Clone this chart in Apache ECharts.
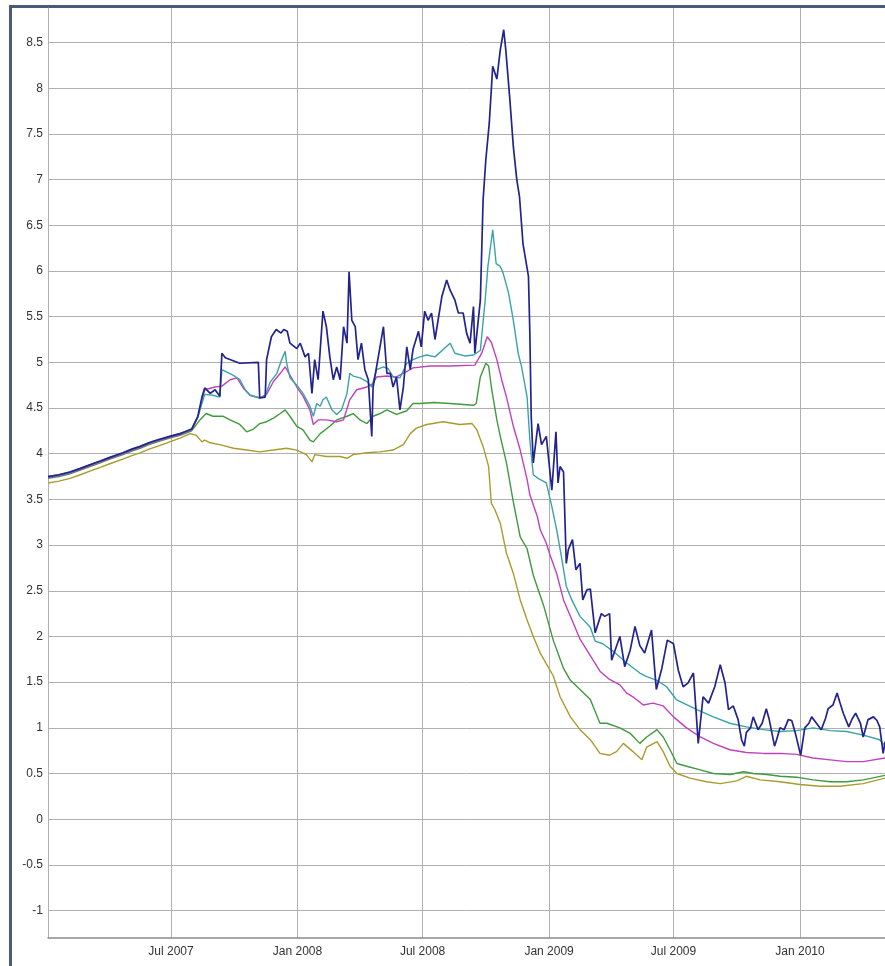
<!DOCTYPE html>
<html>
<head>
<meta charset="utf-8">
<script src="https://cdn.jsdelivr.net/npm/echarts@6/dist/echarts.min.js"></script>
<style>
  html, body { margin: 0; padding: 0; background: #fff; }
  #wrap { position: relative; width: 885px; height: 966px; overflow: hidden; }
  #frame { position: absolute; left: 9px; top: 5px; width: 1000px; height: 1000px;
           border-left: 3px solid #4b5a76; border-top: 3px solid #4b5a76; }
  #chart { position: absolute; left: 0; top: 0; width: 885px; height: 966px; }
</style>
</head>
<body>
<div id="wrap"><div id="frame"></div><div id="chart"></div></div>
<script>
// Day numbers are counted from 3 Jan 2007.
const startDate = Date.UTC(2007, 0, 3);
const axisEndDay = 1217.7;

const xTickDates = ['2007-07-01', '2008-01-01', '2008-07-01', '2009-01-01', '2009-07-01', '2010-01-01'];
const xTickLabels = ['Jul 2007', 'Jan 2008', 'Jul 2008', 'Jan 2009', 'Jul 2009', 'Jan 2010'];
const yTicks = [-1, -0.5, 0, 0.5, 1, 1.5, 2, 2.5, 3, 3.5, 4, 4.5, 5, 5.5, 6, 6.5, 7, 7.5, 8, 8.5];

const blueLine = [
  [0,3.75],[16,3.77],[32,3.80],[47,3.84],[61,3.88],[76,3.92],[90,3.96],[109,4.01],[122,4.05],[134,4.08],
  [147,4.12],[159,4.15],[177,4.19],[192,4.22],[199,4.24],[209,4.27],[218,4.41],[224,4.62],[228,4.72],[236,4.66],
  [243,4.70],[250,4.63],[253,5.10],[258,5.05],[279,4.99],[306,5.00],[308,4.61],[316,4.62],[318,5.03],[325,5.28],
  [332,5.36],[339,5.32],[343,5.36],[348,5.34],[352,5.21],[362,5.15],[367,5.21],[374,5.06],[379,5.10],[384,4.66],
  [388,5.03],[393,4.81],[400,5.56],[405,5.39],[410,5.06],[415,4.81],[420,4.95],[425,4.81],[430,5.39],[435,5.21],
  [438,5.99],[442,5.46],[447,5.39],[451,5.03],[456,5.21],[461,4.92],[466,4.81],[471,4.19],[473,4.73],[478,4.95],
  [483,5.17],[488,5.39],[493,4.88],[498,4.88],[502,4.73],[507,4.84],[512,4.48],[517,4.73],[522,5.17],[527,4.92],
  [531,5.14],[539,5.34],[543,5.17],[548,5.56],[553,5.46],[558,5.54],[563,5.25],[573,5.72],[580,5.90],[585,5.79],
  [592,5.68],[597,5.54],[604,5.54],[609,5.32],[614,5.21],[619,5.61],[621,5.10],[629,5.68],[633,6.78],[637,7.22],
  [642,7.62],[647,8.24],[653,8.10],[658,8.42],[663,8.64],[666,8.42],[672,7.87],[677,7.36],[682,7.00],[686,6.81],
  [691,6.30],[699,5.94],[701,5.32],[703,4.41],[706,3.90],[713,4.33],[718,4.10],[725,4.19],[733,3.60],[739,4.24],
  [742,3.68],[745,3.86],[750,3.80],[754,2.80],[757,2.95],[763,3.06],[768,2.73],[774,2.80],[778,2.40],[784,2.51],
  [789,2.52],[796,2.04],[805,2.25],[810,2.22],[817,2.25],[820,1.74],[825,1.85],[832,2.00],[839,1.67],[847,1.85],
  [854,2.11],[861,1.90],[868,1.82],[878,2.07],[885,1.42],[893,1.65],[901,1.96],[910,1.92],[917,1.63],[924,1.45],
  [931,1.49],[939,1.60],[946,0.83],[953,1.34],[961,1.27],[970,1.45],[978,1.69],[985,1.49],[990,1.20],[997,1.24],
  [1004,1.09],[1009,0.87],[1013,0.80],[1016,0.95],[1022,1.00],[1026,1.12],[1033,0.98],[1039,1.05],[1045,1.21],[1049,1.10],
  [1053,0.95],[1057,0.80],[1060,0.87],[1065,1.00],[1071,0.98],[1077,1.09],[1082,1.08],[1087,0.95],[1095,0.70],[1101,1.00],
  [1107,1.05],[1111,1.12],[1118,1.05],[1125,0.98],[1131,1.10],[1135,1.21],[1142,1.25],[1148,1.38],[1152,1.28],[1157,1.16],
  [1165,1.01],[1170,1.10],[1175,1.16],[1182,1.05],[1186,0.90],[1193,1.09],[1201,1.12],[1206,1.08],[1210,1.01],[1215,0.72],
  [1218,0.85]
];

const tealLine = [
  [0,3.75],[16,3.77],[32,3.80],[47,3.84],[61,3.88],[76,3.92],[90,3.96],[109,4.01],[122,4.05],[134,4.08],
  [147,4.12],[159,4.15],[177,4.19],[192,4.22],[199,4.24],[209,4.27],[218,4.40],[228,4.65],[240,4.64],[250,4.62],
  [253,4.92],[269,4.86],[279,4.81],[287,4.70],[294,4.64],[308,4.61],[316,4.63],[323,4.78],[333,4.88],[340,5.03],
  [345,5.12],[347,5.00],[352,4.83],[362,4.75],[371,4.66],[381,4.52],[386,4.41],[391,4.55],[396,4.52],[400,4.59],
  [405,4.62],[413,4.48],[420,4.43],[427,4.48],[435,4.66],[439,4.88],[444,4.85],[454,4.83],[464,4.79],[471,4.73],
  [478,4.92],[488,4.95],[495,4.93],[502,4.84],[512,4.83],[522,4.99],[531,5.03],[541,5.06],[551,5.08],[563,5.06],
  [585,5.21],[592,5.10],[606,5.07],[619,5.08],[629,5.13],[636,5.68],[640,6.05],[647,6.45],[652,6.08],[658,6.05],
  [662,5.98],[670,5.76],[677,5.46],[684,5.10],[689,4.95],[697,4.62],[701,4.15],[706,3.77],[713,3.73],[725,3.68],
  [733,3.42],[740,3.17],[747,2.87],[754,2.55],[762,2.40],[774,2.22],[789,2.10],[796,1.95],[807,1.92],[822,1.84],
  [842,1.71],[861,1.60],[871,1.56],[886,1.52],[900,1.45],[914,1.31],[944,1.20],[968,1.12],[992,1.05],[1016,1.01],
  [1041,0.98],[1065,0.96],[1089,0.97],[1113,1.00],[1138,0.97],[1162,0.96],[1186,0.92],[1210,0.87],[1218,0.80]
];

const magentaLine = [
  [0,3.74],[16,3.76],[32,3.79],[47,3.83],[61,3.87],[76,3.91],[90,3.95],[109,4.00],[122,4.04],[134,4.07],
  [147,4.11],[159,4.14],[177,4.18],[192,4.21],[199,4.23],[209,4.26],[218,4.40],[228,4.70],[243,4.73],[253,4.74],
  [265,4.81],[275,4.83],[284,4.72],[294,4.64],[308,4.61],[318,4.65],[328,4.79],[338,4.88],[345,4.95],[352,4.86],
  [362,4.73],[371,4.63],[381,4.48],[386,4.32],[393,4.37],[405,4.37],[420,4.35],[430,4.37],[439,4.59],[449,4.70],
  [464,4.73],[473,4.77],[478,4.84],[493,4.85],[507,4.84],[522,4.90],[531,4.94],[556,4.96],[585,4.96],[621,4.97],
  [631,5.10],[639,5.28],[645,5.22],[653,5.03],[660,4.81],[667,4.62],[677,4.30],[687,4.04],[697,3.72],[701,3.55],
  [712,3.31],[716,3.17],[725,3.02],[730,2.90],[740,2.69],[750,2.40],[764,2.15],[774,1.97],[784,1.85],[793,1.74],
  [803,1.62],[817,1.53],[832,1.47],[842,1.38],[851,1.34],[866,1.25],[880,1.27],[895,1.24],[910,1.12],[929,1.00],
  [949,0.90],[968,0.83],[992,0.76],[1016,0.73],[1041,0.72],[1065,0.72],[1089,0.71],[1113,0.67],[1138,0.65],[1162,0.63],
  [1186,0.63],[1218,0.67]
];

const greenLine = [
  [0,3.73],[16,3.75],[32,3.78],[47,3.82],[61,3.86],[76,3.90],[90,3.94],[109,3.99],[122,4.03],[134,4.06],
  [147,4.10],[159,4.13],[177,4.17],[192,4.20],[199,4.22],[209,4.25],[221,4.37],[230,4.44],[240,4.41],[255,4.41],
  [265,4.37],[279,4.32],[289,4.24],[299,4.27],[308,4.33],[318,4.35],[328,4.39],[338,4.44],[345,4.48],[352,4.41],
  [362,4.30],[371,4.26],[381,4.15],[386,4.13],[396,4.22],[410,4.30],[420,4.37],[435,4.41],[444,4.44],[454,4.37],
  [464,4.33],[473,4.41],[483,4.44],[493,4.48],[507,4.43],[522,4.47],[531,4.55],[541,4.55],[561,4.56],[585,4.55],
  [619,4.53],[623,4.55],[629,4.84],[637,4.99],[641,4.96],[645,4.73],[653,4.37],[658,4.19],[667,3.90],[677,3.47],
  [687,3.09],[697,2.96],[706,2.67],[721,2.34],[735,1.96],[750,1.65],[760,1.52],[774,1.42],[789,1.31],[803,1.05],
  [813,1.05],[832,1.00],[847,0.94],[861,0.83],[871,0.90],[886,0.98],[895,0.90],[905,0.76],[915,0.61],[929,0.58],
  [949,0.54],[968,0.50],[992,0.49],[1012,0.52],[1026,0.50],[1046,0.49],[1065,0.47],[1089,0.46],[1113,0.43],[1138,0.41],
  [1162,0.41],[1186,0.43],[1218,0.48]
];

const oliveLine = [
  [0,3.68],[16,3.70],[32,3.73],[47,3.77],[61,3.81],[76,3.85],[90,3.89],[109,3.94],[122,3.98],[134,4.01],
  [147,4.05],[159,4.08],[177,4.13],[192,4.17],[207,4.22],[216,4.20],[224,4.13],[228,4.15],[236,4.12],[250,4.10],
  [270,4.06],[289,4.04],[308,4.02],[328,4.04],[347,4.06],[362,4.04],[376,3.99],[384,3.91],[388,3.99],[405,3.97],
  [425,3.97],[435,3.95],[444,3.99],[464,4.01],[483,4.02],[502,4.04],[512,4.08],[517,4.10],[527,4.22],[536,4.28],
  [551,4.32],[575,4.35],[599,4.32],[617,4.33],[624,4.26],[633,4.08],[641,3.86],[645,3.46],[650,3.39],[658,3.24],
  [667,2.91],[677,2.69],[687,2.40],[697,2.18],[706,2.00],[716,1.82],[725,1.70],[735,1.57],[745,1.34],[760,1.12],
  [774,0.98],[789,0.87],[803,0.72],[817,0.70],[827,0.74],[837,0.83],[851,0.74],[864,0.65],[871,0.79],[886,0.85],
  [895,0.74],[905,0.58],[915,0.50],[934,0.45],[958,0.41],[978,0.39],[1002,0.42],[1016,0.47],[1036,0.43],[1065,0.41],
  [1094,0.38],[1123,0.36],[1152,0.36],[1186,0.39],[1218,0.45]
];

const DAY = 86400000;
const toTime = d => startDate + d * DAY;
const toPoints = arr => arr.map(p => [toTime(p[0]), p[1]]);
const parseDay = s => { const [y, m, d] = s.split('-').map(Number); return Date.UTC(y, m - 1, d); };
const xTickTimes = xTickDates.map(parseDay);

const textStyle = { color: '#333', fontSize: 12, fontFamily: 'Liberation Sans, Arial, sans-serif' };
const gridColor = '#b0b0b0';

const lineSeries = (data, color, width) => ({
  type: 'line',
  data: toPoints(data),
  showSymbol: false,
  symbol: 'none',
  lineStyle: { color: color, width: width },
  itemStyle: { color: color },
  emphasis: { disabled: true },
  silent: true
});

const chart = echarts.init(document.getElementById('chart'), null, { renderer: 'canvas' });
chart.setOption({
  animation: false,
  backgroundColor: 'transparent',
  grid: { left: 48, right: 0, top: 8, bottom: 28, containLabel: false, outerBoundsMode: 'none' },
  xAxis: {
    // timestamps on a linear axis, ticks placed on the half-year boundaries
    type: 'value',
    min: toTime(0),
    max: toTime(axisEndDay),
    axisLine: { show: true, onZero: false, lineStyle: { color: '#8a8a8a', width: 1.5 } },
    axisTick: { show: false, customValues: xTickTimes },
    axisLabel: {
      customValues: xTickTimes,
      margin: 8,
      ...textStyle,
      formatter: v => {
        const i = xTickTimes.indexOf(v);
        return i >= 0 ? xTickLabels[i] : '';
      }
    },
    splitLine: { show: true, lineStyle: { color: gridColor, width: 1 } }
  },
  yAxis: {
    type: 'value',
    min: -1.3,
    max: 8.878,
    axisLine: { show: true, onZero: false, lineStyle: { color: gridColor, width: 1 } },
    axisTick: { show: false, customValues: yTicks },
    axisLabel: { customValues: yTicks, margin: 5, ...textStyle },
    splitLine: { show: true, lineStyle: { color: gridColor, width: 1 } }
  },
  series: [
    lineSeries(oliveLine, '#a99c2e', 1.4),
    lineSeries(greenLine, '#3d9a3d', 1.4),
    lineSeries(magentaLine, '#c040bf', 1.4),
    lineSeries(tealLine, '#3aa3a8', 1.4),
    lineSeries(blueLine, '#23238f', 1.7)
  ]
});
</script>
</body>
</html>
